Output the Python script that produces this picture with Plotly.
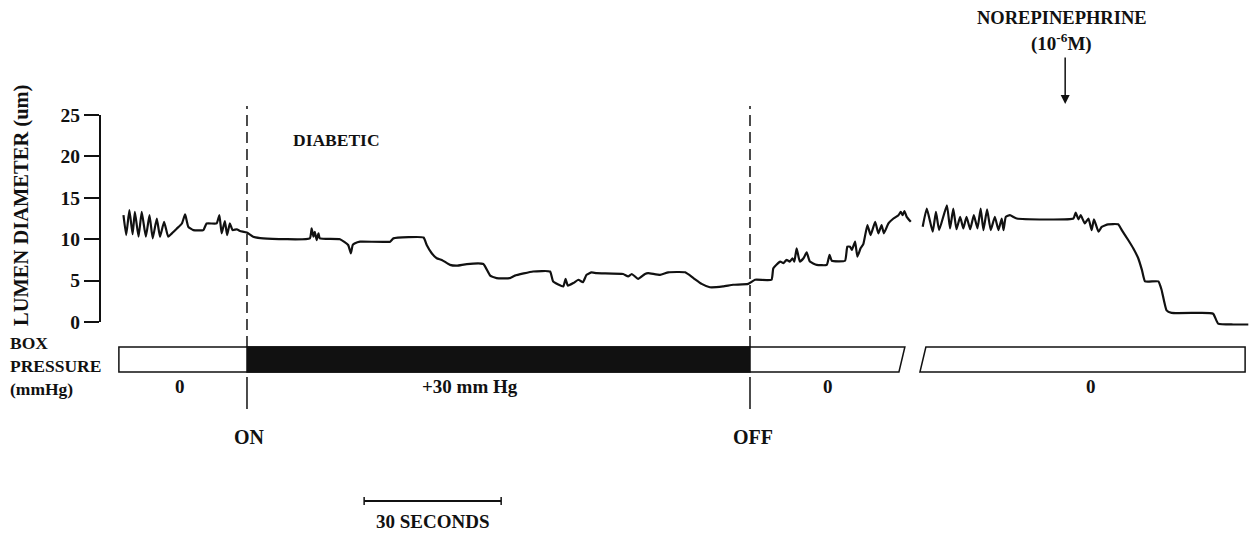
import plotly.graph_objects as go

# ---------------- data ----------------
# time in seconds (0 = start of recording), lumen diameter in um
seg1_time_s = [0.1, 0.7, 1.4, 2.1, 2.6, 3.4, 4.1, 5.0, 5.8, 6.5, 7.4, 8.1, 9.0, 9.9, 10.7,
               11.8, 12.9, 13.6, 14.3, 15.4, 17.6, 18.3, 20.5, 21.1, 21.6, 22.3, 22.8, 23.4,
               24.0, 24.9, 25.6, 27.1, 28.5, 30.7, 40.9, 41.3, 41.7, 42.0, 42.4, 42.8, 43.1,
               47.5, 49.3, 49.9, 50.3, 50.8, 51.9, 58.5, 59.2, 65.8, 66.5, 67.6, 68.7, 69.8,
               71.6, 73.1, 75.3, 78.9, 80.4, 81.8, 84.7, 85.8, 89.8, 93.5, 94.2, 96.4, 96.9,
               97.4, 98.6, 99.7, 100.7, 101.5, 102.6, 103.7, 109.5, 110.6, 111.4, 112.8,
               114.3, 115.0, 117.6, 119.4, 123.1, 124.9, 126.7, 128.5, 131.4, 133.6, 136.9,
               138.4, 142.0, 142.4, 143.9, 144.6, 145.3, 146.0, 146.6, 147.0, 147.5, 148.2,
               149.0, 149.7, 150.4, 151.9, 154.1, 154.7, 155.2, 158.1, 158.6, 159.2, 159.6,
               160.3, 160.8, 161.5, 162.1, 163.0, 163.7, 164.7, 165.4, 166.1, 166.6, 167.6,
               168.7, 169.8, 170.3, 170.7, 171.1, 171.6, 172.5]
seg1_diameter_um = [12.9, 10.5, 13.5, 10.6, 13.3, 10.3, 13.3, 10.3, 12.9, 10.1, 12.5, 10.3,
                    12.1, 10.3, 10.7, 11.3, 11.9, 13.0, 11.5, 11.1, 11.1, 11.9, 11.9, 12.9,
                    10.7, 12.2, 10.5, 11.9, 11.1, 11.2, 11.0, 10.8, 10.3, 10.1, 10.1, 11.3,
                    10.3, 10.9, 9.9, 10.7, 10.1, 10.0, 9.3, 8.3, 9.3, 9.5, 9.7, 9.7, 10.1,
                    10.2, 9.3, 8.3, 7.7, 7.5, 6.9, 6.8, 7.0, 7.0, 5.6, 5.3, 5.3, 5.6, 6.1,
                    6.1, 4.9, 4.3, 5.2, 4.4, 4.7, 5.1, 4.8, 5.7, 6.0, 5.9, 5.8, 5.5, 5.8,
                    5.2, 5.8, 5.9, 5.7, 6.0, 6.0, 5.3, 4.6, 4.2, 4.3, 4.5, 4.6, 5.1, 5.1,
                    6.5, 7.3, 7.1, 7.5, 7.3, 7.7, 7.3, 8.9, 7.3, 7.7, 8.4, 7.3, 6.9, 6.9,
                    8.1, 7.4, 7.4, 9.1, 9.1, 8.7, 9.7, 7.9, 8.9, 9.4, 11.7, 10.5, 12.1,
                    10.7, 11.7, 10.7, 11.9, 12.5, 12.9, 13.3, 12.9, 13.4, 12.7, 12.1]
seg2_time_s = [175.1, 176.0, 177.3, 178.0, 178.7, 180.4, 181.1, 181.8, 182.5, 183.3, 184.0,
               184.7, 185.5, 186.3, 187.1, 187.8, 188.4, 189.2, 190.0, 190.9, 191.7, 192.4,
               192.8, 193.3, 194.2, 195.7, 208.1, 208.6, 209.2, 209.7, 210.6, 211.4, 212.1,
               212.6, 213.6, 214.3, 215.7, 217.9, 218.7, 220.1, 221.2, 222.3, 223.1, 223.8,
               226.7, 227.4, 228.5, 229.6, 235.8, 238.7, 239.8, 243.1, 246.4]
seg2_diameter_um = [11.5, 13.7, 10.9, 13.3, 11.1, 14.1, 11.3, 13.7, 11.2, 12.7, 11.3, 12.7,
                    11.2, 12.9, 11.3, 13.7, 11.1, 13.6, 11.1, 12.7, 11.1, 12.5, 11.1, 12.7,
                    12.9, 12.5, 12.5, 13.2, 12.4, 12.9, 11.9, 12.5, 11.1, 12.4, 10.9, 11.5,
                    11.8, 11.8, 11.1, 9.9, 8.9, 7.7, 6.3, 4.9, 4.9, 3.9, 1.4, 1.1, 1.1, 1.0,
                    -0.2, -0.3, -0.3]

y_ticks = [0, 5, 10, 15, 20, 25]
pressure_on_s = 27.15
pressure_off_s = 137.29
box1_span_s = [-0.9, 171.2]        # first recording period
box2_span_s = [175.8, 245.7]       # second recording period
norepinephrine_s = 206.3
scale_bar_s = [52.8, 82.8]         # 30 seconds
pressure_labels = ["0", "+30 mm Hg", "0", "0"]
pressure_label_s = [12.5, 76.0, 154.4, 211.9]

# ---------------- figure ----------------
W, H = 1249, 535
ML = 100
SER = "Liberation Serif"
BLK = "#111"


def py(p):
    """pixel row -> paper y"""
    return 1 - p / H


def px(p):
    """pixel column -> paper x"""
    return (p - ML) / (W - ML)


fig = go.Figure()
for t, d in ((seg1_time_s, seg1_diameter_um), (seg2_time_s, seg2_diameter_um)):
    fig.add_trace(go.Scatter(x=t, y=d, mode="lines",
                             line=dict(color=BLK, width=2.2, shape="spline", smoothing=0.4),
                             hoverinfo="skip", showlegend=False))

yt, yb = py(347), py(372)
slant = 1.3
shapes = [
    # y-axis line 0..25
    dict(type="line", xref="paper", yref="y", x0=0, x1=0, y0=0, y1=25,
         line=dict(color=BLK, width=2)),
    # box pressure bars
    dict(type="path", xref="x", yref="paper",
         path=f"M {box1_span_s[0]},{yt} L {box1_span_s[1]},{yt} L {box1_span_s[1]-slant},{yb} "
              f"L {box1_span_s[0]},{yb} Z",
         fillcolor="white", line=dict(color=BLK, width=1.5)),
    dict(type="rect", xref="x", yref="paper", x0=pressure_on_s, x1=pressure_off_s,
         y0=yb, y1=yt, fillcolor=BLK, line=dict(color=BLK, width=1.5)),
    dict(type="path", xref="x", yref="paper",
         path=f"M {box2_span_s[0]},{yt} L {box2_span_s[1]},{yt} L {box2_span_s[1]},{yb} "
              f"L {box2_span_s[0]-slant},{yb} Z",
         fillcolor="white", line=dict(color=BLK, width=1.5)),
    # scale bar
    dict(type="line", xref="x", yref="paper", x0=scale_bar_s[0], x1=scale_bar_s[1],
         y0=py(501), y1=py(501), line=dict(color=BLK, width=2)),
]
for s in scale_bar_s:
    shapes.append(dict(type="line", xref="x", yref="paper", x0=s, x1=s,
                       y0=py(497), y1=py(505), line=dict(color=BLK, width=1.5)))
for t in (pressure_on_s, pressure_off_s):
    shapes.append(dict(type="line", xref="x", yref="paper", x0=t, x1=t,
                       y0=py(347), y1=py(106), line=dict(color=BLK, width=1.5, dash="11px,6px")))
    shapes.append(dict(type="line", xref="x", yref="paper", x0=t, x1=t,
                       y0=py(409), y1=py(377), line=dict(color=BLK, width=1.5)))

ann = []


def text(x, y, s, size, xref="x", xanchor="center", **kw):
    ann.append(dict(x=x, y=y, xref=xref, yref="paper", text=f"<b>{s}</b>", showarrow=False,
                    xanchor=xanchor, yanchor="middle",
                    font=dict(family=SER, size=size, color=BLK), **kw))


for lab, t in zip(pressure_labels, pressure_label_s):
    text(t, py(386), lab, 19)
text(pressure_on_s + 0.6, py(437), "ON", 20)
text(pressure_off_s + 0.6, py(437), "OFF", 20)
text(36.8, py(140), "DIABETIC", 17.5, xanchor="left")
text(norepinephrine_s - 0.8, py(18), "NOREPINEPHRINE", 18.5)
text(norepinephrine_s - 0.8, py(43), "(10<sup>-6</sup>M)", 19)
text(sum(scale_bar_s) / 2, py(521), "30 SECONDS", 19)
text(px(8), py(366), "BOX<br>PRESSURE<br>(mmHg)", 17.5, xref="paper", xanchor="left", align="left")
text(px(22), py(206), "LUMEN DIAMETER (um)", 20.5, xref="paper", textangle=-90)
# arrow for norepinephrine application
ann.append(dict(x=norepinephrine_s, y=py(104), xref="x", yref="paper", text="",
                showarrow=True, ax=0, ay=-48, arrowhead=2, arrowsize=1.2, arrowwidth=1.5,
                arrowcolor=BLK))

fig.update_layout(
    width=W, height=H, margin=dict(l=ML, r=0, t=0, b=0),
    plot_bgcolor="white", paper_bgcolor="white",
    xaxis=dict(range=[(100 - 123) / 4.567, (1249 - 123) / 4.567], visible=False, fixedrange=True),
    yaxis=dict(range=[(322 - 535) / 8.28, 322 / 8.28], tickvals=y_ticks, ticks="outside",
               ticklen=15, tickwidth=2, tickcolor=BLK, showgrid=False, zeroline=False,
               showline=False, fixedrange=True,
               tickfont=dict(family=SER, size=19.5, color=BLK, weight="bold")),
    shapes=shapes, annotations=ann,
)

fig.write_html("out.html", config={"displayModeBar": False, "staticPlot": True},
               post_script="document.body.style.margin='0';document.body.style.padding='0';"
                           "document.documentElement.style.overflow='hidden';")
